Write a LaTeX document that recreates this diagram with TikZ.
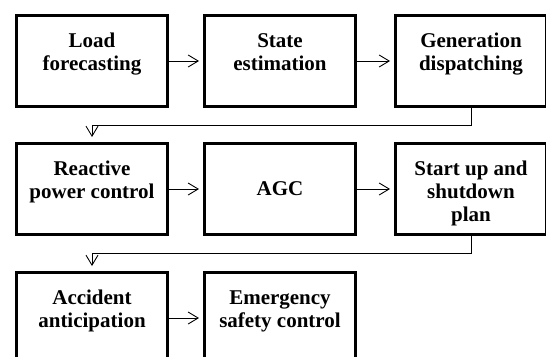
\documentclass[tikz,border=0pt]{standalone}
\usepackage{fontspec}
\setmainfont{Liberation Serif}
\usetikzlibrary{arrows.meta,calc}
\newcommand\bxt[1]{\parbox[c][59pt][t]{150pt}{\centering\strut #1}}
\begin{document}
\begin{tikzpicture}[x=1pt,y=-1pt,
  box/.style={draw, line width=3pt, minimum width=151pt, minimum height=91pt,
    inner sep=0pt, align=center, font=\fontsize{21}{23}\selectfont\bfseries},
  link/.style={line width=0.9pt, -{Straight Barb[length=10pt,width=12pt]}}]
\useasboundingbox (0,0) rectangle (546,356);
\node[box] (n1) at (92,61) {\bxt{Load\\forecasting}};
\node[box] (n2) at (280,61) {\bxt{State\\estimation}};
\node[box] (n3) at (471,61) {\bxt{Generation\\dispatching}};
\node[box] (n4) at (92,189) {\bxt{Reactive\\power control}};
\node[box] (n5) at (280,189) {AGC};
\node[box] (n6) at (471,189) {\bxt{Start up and\\shutdown\\plan}};
\node[box] (n7) at (92,318) {\bxt{Accident\\anticipation}};
\node[box] (n8) at (280,318) {\bxt{Emergency\\safety control}};
\draw[link] (n1.east) -- ([xshift=-4pt]n2.west);
\draw[link] (n2.east) -- ([xshift=-4pt]n3.west);
\draw[link] (n4.east) -- ([xshift=-4pt]n5.west);
\draw[link] (n5.east) -- ([xshift=-4pt]n6.west);
\draw[link] (n7.east) -- ([xshift=-4pt]n8.west);
\coordinate (m1) at ($(n3.south)!0.5!(n4.north)$);
\coordinate (m2) at ($(n6.south)!0.5!(n7.north)$);
\draw[link] (n3.south) -- (n3.south |- m1) -- (n4.north |- m1) -- ([yshift=5pt]n4.north);
\draw[link] (n6.south) -- (n6.south |- m2) -- (n7.north |- m2) -- ([yshift=5pt]n7.north);
\end{tikzpicture}
\end{document}
